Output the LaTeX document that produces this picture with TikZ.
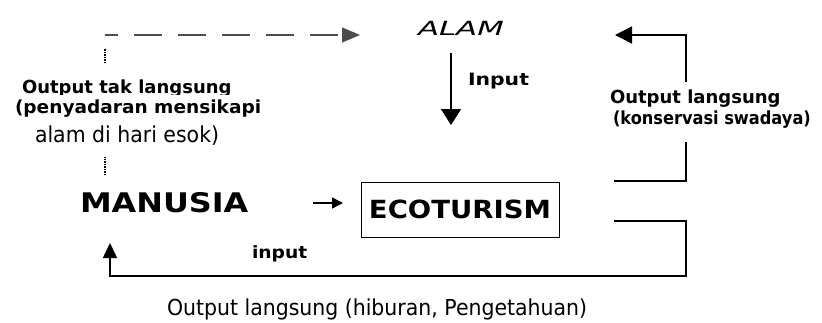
\documentclass[tikz,border=0pt]{standalone}
\usepackage{graphicx}
\usepackage{fontspec}
\setmainfont{DejaVu Sans}
\usetikzlibrary{arrows.meta}
% text at a given size, stretched horizontally by a factor
\newcommand\wfont[3]{\scalebox{#1}[1]{\fontsize{#2}{#2}\selectfont #3}}

\begin{document}
\begin{tikzpicture}[x=1pt,y=-1pt,
  txt/.style={inner sep=0pt, outer sep=0pt, anchor=base west},
  solidline/.style={line width=1.5pt, line cap=butt},
  dotline/.style={line width=1.3pt, dash pattern=on 1.2pt off 1.3pt},
  dashline/.style={line width=1.1pt, black!70, dash pattern=on 28pt off 16pt, dash phase=15pt},
  ecobox/.style={draw, line width=1pt, inner sep=0pt, minimum width=198pt, minimum height=55pt}]
\useasboundingbox (0,0) rectangle (822,322);
\fill[white] (0,0) rectangle (822,322);

% labels
\node[txt] (alam) at (418,35.5) {\wfont{1.58}{19.5}{\itshape ALAM}};
\node[txt] (inp) at (468,85) {\wfont{1.2}{17}{\bfseries Input}};
\node[txt] (ro1) at (610,103) {\wfont{1.0}{18}{\bfseries Output langsung}};
\node[txt] (ro2) at (613,124) {\wfont{0.9}{18}{\bfseries (konservasi swadaya)}};
\begin{scope}
  \clip (0,0) rectangle (300,94);
  \node[txt] (lo1) at (22,93) {\wfont{1.0}{18}{\bfseries Output tak langsung}};
\end{scope}
\node[txt] (lo2) at (15,113) {\wfont{1.03}{18}{\bfseries (penyadaran mensikapi}};
\node[txt] (lo3) at (35,142) {\wfont{0.93}{22}{alam di hari esok)}};
\node[txt] (mns) at (80,212.5) {\wfont{1.18}{27}{\bfseries MANUSIA}};
\node[ecobox] (eco) at (460,209.5) {\wfont{1.1}{25}{\bfseries ECOTURISM}};
\node[txt] (inp2) at (252,258) {\wfont{1.1}{17}{\bfseries input}};
\node[txt] (bot) at (167,315) {\wfont{0.93}{22}{Output langsung (hiburan, Pengetahuan)}};

% connector end points
\coordinate (a0) at (451,53);
\coordinate (a1) at (451,125);
\coordinate (r0) at (614,181);
\coordinate (r1) at (686,142);
\coordinate (r2) at (686,82);
\coordinate (r3) at (615,35);
\coordinate (s0) at (614,221);
\coordinate (s1) at (686,276);
\coordinate (s2) at (110,243);
\coordinate (m0) at (313,203);
\coordinate (m1) at (343,203);
\coordinate (d0) at (105,175);
\coordinate (d1) at (105,157);
\coordinate (d2) at (105,63);
\coordinate (d3) at (105,48);
\coordinate (d4) at (105,35);
\coordinate (d5) at (360,35);

% ALAM -> ECOTURISM
\draw[solidline, -{Triangle[width=20pt,length=16pt]}] (a0) -- (a1);
% ECOTURISM -> ALAM (conservation)
\draw[solidline] (r0) -| (r1);
\draw[solidline, -{Triangle[width=17pt,length=17pt]}] (r2) |- (r3);
% ECOTURISM -> MANUSIA
\draw[solidline, -{Triangle[width=14pt,length=15pt]}] (s0) -| (s1) -| (s2);
% MANUSIA -> ECOTURISM
\draw[solidline, -{Triangle[width=11pt,length=11pt]}] (m0) -- (m1);
% MANUSIA -> ALAM (indirect)
\draw[dotline] (d0) -- (d1);
\draw[dotline] (d2) -- (d3);
\draw[dashline, -{Triangle[width=15pt,length=18pt]}] (d4) -- (d5);
\end{tikzpicture}
\end{document}
